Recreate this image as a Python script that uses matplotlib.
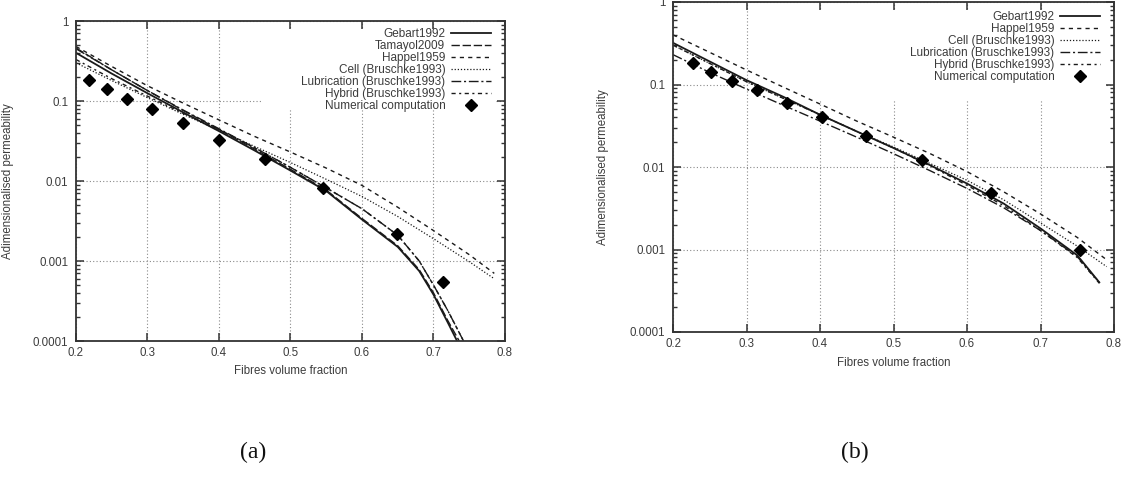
import numpy as np
import matplotlib.pyplot as plt
from matplotlib.patches import Rectangle

# ---- panel (a) ----
gebart_a_x = [0.20, 0.25, 0.30, 0.35, 0.40, 0.45, 0.50, 0.55, 0.60, 0.65, 0.68, 0.70, 0.72, 0.733]
gebart_a_y = [0.40, 0.22, 0.125, 0.072, 0.042, 0.024, 0.0135, 0.0075, 0.0033, 0.0015, 0.00075, 0.00038, 0.00017, 0.0001]
tamayol_a_x = [0.20, 0.25, 0.30, 0.35, 0.40, 0.45, 0.50, 0.55, 0.60, 0.65, 0.68, 0.70, 0.72, 0.736]
tamayol_a_y = [0.46, 0.245, 0.135, 0.076, 0.044, 0.025, 0.014, 0.0077, 0.0034, 0.00155, 0.00078, 0.0004, 0.00018, 0.0001]
happel_a_x = [0.20, 0.25, 0.30, 0.35, 0.40, 0.45, 0.50, 0.55, 0.60, 0.65, 0.70, 0.75, 0.785]
happel_a_y = [0.48, 0.27, 0.155, 0.094, 0.058, 0.036, 0.023, 0.0145, 0.0088, 0.0047, 0.0024, 0.0012, 0.0007]
cell_a_x = [0.20, 0.25, 0.30, 0.35, 0.40, 0.45, 0.50, 0.55, 0.60, 0.65, 0.70, 0.75, 0.785]
cell_a_y = [0.30, 0.18, 0.11, 0.068, 0.043, 0.027, 0.017, 0.0105, 0.0064, 0.0036, 0.0019, 0.00098, 0.0006]
lub_a_x = [0.20, 0.25, 0.30, 0.35, 0.40, 0.45, 0.50, 0.55, 0.60, 0.65, 0.68, 0.70, 0.72, 0.742]
lub_a_y = [0.45, 0.245, 0.135, 0.077, 0.045, 0.026, 0.0148, 0.0082, 0.0045, 0.0021, 0.001, 0.0005, 0.00024, 0.0001]
hyb_a_x = [0.20, 0.25, 0.30, 0.35, 0.40, 0.45, 0.50, 0.55, 0.60, 0.65, 0.68, 0.70, 0.72, 0.742]
hyb_a_y = [0.33, 0.19, 0.115, 0.07, 0.044, 0.026, 0.0148, 0.0082, 0.0045, 0.0021, 0.001, 0.0005, 0.00024, 0.0001]
num_a_x = [0.218, 0.243, 0.271, 0.306, 0.350, 0.400, 0.464, 0.545, 0.649, 0.713]
num_a_y = [0.182, 0.141, 0.106, 0.079, 0.053, 0.033, 0.0187, 0.0082, 0.0022, 0.00055]

# ---- panel (b) ----
gebart_b_x = [0.20, 0.25, 0.30, 0.35, 0.40, 0.45, 0.50, 0.55, 0.60, 0.65, 0.70, 0.75, 0.78]
gebart_b_y = [0.32, 0.19, 0.113, 0.071, 0.043, 0.027, 0.017, 0.0105, 0.0063, 0.0036, 0.0018, 0.00085, 0.0004]
happel_b_x = [0.20, 0.25, 0.30, 0.35, 0.40, 0.45, 0.50, 0.55, 0.60, 0.65, 0.70, 0.75, 0.79]
happel_b_y = [0.40, 0.245, 0.15, 0.093, 0.058, 0.036, 0.023, 0.0145, 0.0088, 0.005, 0.0027, 0.0014, 0.00075]
cell_b_x = [0.20, 0.25, 0.30, 0.35, 0.40, 0.45, 0.50, 0.55, 0.60, 0.65, 0.70, 0.75, 0.79]
cell_b_y = [0.30, 0.18, 0.108, 0.068, 0.043, 0.027, 0.0175, 0.011, 0.0069, 0.004, 0.0021, 0.0011, 0.00062]
lub_b_x = [0.20, 0.25, 0.30, 0.35, 0.40, 0.45, 0.50, 0.55, 0.60, 0.65, 0.70, 0.75, 0.78]
lub_b_y = [0.23, 0.14, 0.088, 0.056, 0.036, 0.023, 0.0145, 0.009, 0.0055, 0.0032, 0.0017, 0.00082, 0.0004]
hyb_b_x = [0.20, 0.25, 0.30, 0.35, 0.40, 0.45, 0.50, 0.55, 0.60, 0.65, 0.70, 0.75, 0.78]
hyb_b_y = [0.30, 0.18, 0.108, 0.068, 0.043, 0.027, 0.017, 0.0103, 0.006, 0.0034, 0.0017, 0.0008, 0.00039]
num_b_x = [0.227, 0.252, 0.280, 0.314, 0.355, 0.403, 0.463, 0.539, 0.633, 0.754]
num_b_y = [0.183, 0.143, 0.111, 0.086, 0.060, 0.040, 0.024, 0.0123, 0.0048, 0.001]

xticks = [0.2, 0.3, 0.4, 0.5, 0.6, 0.7, 0.8]
xticklabels = ['0.2', '0.3', '0.4', '0.5', '0.6', '0.7', '0.8']
yticks = [0.0001, 0.001, 0.01, 0.1, 1]
yticklabels = ['0.0001', '0.001', '0.01', '0.1', '1']

plt.rcParams['font.family'] = ['Liberation Sans', 'DejaVu Sans']
fs = 8.3
tcol = '#3c3c3c'
lc = '#1a1a1a'

styles = {
    'Gebart1992': '-',
    'Tamayol2009': (0, (6, 2)),
    'Happel1959': (0, (3, 3)),
    'Cell (Bruschke1993)': (0, (1, 1.5)),
    'Lubrication (Bruschke1993)': (0, (7, 2, 1.5, 2)),
    'Hybrid (Bruschke1993)': (0, (3, 2.5, 1.5, 2.5)),
}

fig = plt.figure(figsize=(11.46, 4.84), dpi=100)
W, H = 1146, 484


def make_axes(x0, x1, y0, y1):
    return fig.add_axes([x0 / W, 1 - y1 / H, (x1 - x0) / W, (y1 - y0) / H])


def setup(ax, blank, leg_anchor):
    ax.set_yscale('log')
    ax.set_xlim(0.2, 0.8)
    ax.set_ylim(0.0001, 1)
    ax.set_xticks(xticks)
    ax.set_xticklabels(xticklabels)
    ax.set_yticks(yticks)
    ax.set_yticklabels(yticklabels)
    ax.tick_params(axis='both', which='major', direction='in', length=6, width=1.1,
                   color='#333333', labelsize=fs, labelcolor=tcol,
                   top=True, right=True)
    ax.tick_params(axis='y', which='major', pad=5.5)
    ax.tick_params(axis='x', which='major', pad=4)
    ax.tick_params(axis='y', which='minor', direction='in', length=3.2, width=1.0,
                   color='#333333', left=True, right=True)
    ax.tick_params(axis='x', which='minor', bottom=False, top=False)
    for s in ax.spines.values():
        s.set_linewidth(1.3)
        s.set_color('#333333')
    ax.grid(True, which='major', color='#8a8a8a', linestyle=(0, (1, 2)), linewidth=0.8)
    ax.set_axisbelow(True)
    bx, by = blank
    ax.add_patch(Rectangle((bx, by), 0.98 - bx, 0.975 - by, transform=ax.transAxes,
                           facecolor='white', edgecolor='none', zorder=1))
    ax.set_xlabel('Fibres volume fraction', fontsize=fs, color=tcol)
    ax.set_ylabel('Adimensionalised permeability', fontsize=fs, color=tcol)
    ax.xaxis.set_label_coords(0.5, -0.075)
    ax.yaxis.set_label_coords(-0.145, 0.5)
    leg = ax.legend(loc='upper right', bbox_to_anchor=leg_anchor, markerfirst=False,
                    frameon=False, fontsize=8.5, handlelength=3.4, handletextpad=0.45,
                    labelspacing=0.0, borderaxespad=0, borderpad=0, numpoints=1)
    for t in leg.get_texts():
        t.set_color(tcol)


# (a)
ax1 = make_axes(76, 505, 21, 341)
ax1.plot(gebart_a_x, gebart_a_y, color=lc, lw=1.3, ls=styles['Gebart1992'], label='Gebart1992')
ax1.plot(tamayol_a_x, tamayol_a_y, color=lc, lw=1.0, ls=styles['Tamayol2009'], label='Tamayol2009')
ax1.plot(happel_a_x, happel_a_y, color=lc, lw=1.0, ls=styles['Happel1959'], label='Happel1959')
ax1.plot(cell_a_x, cell_a_y, color=lc, lw=0.9, ls=styles['Cell (Bruschke1993)'], label='Cell (Bruschke1993)')
ax1.plot(lub_a_x, lub_a_y, color=lc, lw=1.0, ls=styles['Lubrication (Bruschke1993)'], label='Lubrication (Bruschke1993)')
ax1.plot(hyb_a_x, hyb_a_y, color=lc, lw=1.0, ls=styles['Hybrid (Bruschke1993)'], label='Hybrid (Bruschke1993)')
ax1.plot(num_a_x, num_a_y, 'D', color='black', ms=6, ls='none', label='Numerical computation')
setup(ax1, (0.436, 0.722), (0.967, 0.978))

# (b)
ax2 = make_axes(673, 1114, 2, 332)
ax2.plot(gebart_b_x, gebart_b_y, color=lc, lw=1.3, ls=styles['Gebart1992'], label='Gebart1992')
ax2.plot(happel_b_x, happel_b_y, color=lc, lw=1.0, ls=styles['Happel1959'], label='Happel1959')
ax2.plot(cell_b_x, cell_b_y, color=lc, lw=0.9, ls=styles['Cell (Bruschke1993)'], label='Cell (Bruschke1993)')
ax2.plot(lub_b_x, lub_b_y, color=lc, lw=1.0, ls=styles['Lubrication (Bruschke1993)'], label='Lubrication (Bruschke1993)')
ax2.plot(hyb_b_x, hyb_b_y, color=lc, lw=1.0, ls=styles['Hybrid (Bruschke1993)'], label='Hybrid (Bruschke1993)')
ax2.plot(num_b_x, num_b_y, 'D', color='black', ms=6, ls='none', label='Numerical computation')
setup(ax2, (0.175, 0.70), (0.968, 0.973))

fig.text(253 / W, 1 - 452 / H, '(a)', fontsize=17, family='Liberation Serif',
         ha='center', va='center', color='#111111')
fig.text(855 / W, 1 - 452 / H, '(b)', fontsize=17, family='Liberation Serif',
         ha='center', va='center', color='#111111')

fig.savefig('out.png', dpi=100)
